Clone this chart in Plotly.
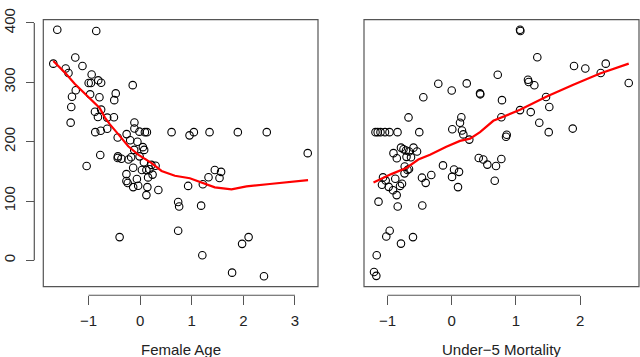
import plotly.graph_objects as go

# left panel: Female Age vs response
age_x = [-1.607, -0.852, -1.684, -1.258, -1.119, -1.444, -1.390, -0.941, -0.999, -0.954,
         -0.813, -0.757, -0.145, -1.249, -0.474, -1.322, -0.970, -0.790, -0.503, -1.336,
         -0.757, -0.877, -0.819, -0.639, -0.509, -1.348, -0.112, -0.871, -0.765, -0.639,
         -0.112, -0.015, 0.091, 0.130, -0.263, -0.436, -0.194, -0.054, -0.774, -0.432,
         0.052, -0.116, 0.077, -1.038, -0.436, -0.364, -0.228, -0.176, -0.012, 0.072,
         0.217, 0.298, 0.033, 0.120, 0.178, -0.136, -0.267, 0.153, 0.240, -0.064,
         -0.267, -0.242, -0.136, -0.039, 0.139, 0.352, 0.120, -0.399, 0.608, 0.956,
         1.040, 1.344, 1.892, 2.453, 3.247, 1.446, 1.568, 1.324, 1.537, 1.214,
         0.929, 0.736, 0.755, 1.181, 0.736, 2.101, 1.975, 1.204, 1.781, 2.399]
age_y = [388.6, 386.3, 331.4, 341.7, 327.5, 323.3, 315.6, 313.1, 298.9, 298.9,
         303.3, 299.3, 295.2, 286.7, 281.3, 275.6, 279.7, 274.8, 269.9, 258.4,
         254.0, 250.3, 241.6, 240.5, 241.0, 232.0, 232.3, 216.0, 218.4, 221.7,
         222.2, 216.8, 216.0, 216.0, 212.7, 207.0, 202.4, 199.7, 177.6, 175.2,
         190.7, 186.1, 186.1, 158.9, 172.4, 171.1, 169.8, 173.6, 175.2, 165.4,
         160.8, 159.3, 152.3, 152.3, 153.5, 156.1, 145.3, 139.8, 144.5, 137.1,
         133.6, 130.3, 123.4, 125.7, 123.4, 118.5, 109.9, 39.2, 216.0, 210.6,
         216.0, 216.0, 216.0, 216.0, 180.6, 152.3, 149.1, 140.1, 138.8, 128.3,
         125.4, 98.4, 90.8, 92.2, 50.0, 39.2, 27.8, 8.7, -20.7, -26.8]
age_fit_x = [-1.684, -1.464, -1.270, -1.013, -0.786, -0.683, -0.587, -0.426, -0.232, -0.039,
             0.221, 0.414, 0.672, 0.962, 1.220, 1.446, 1.770, 2.060, 2.511, 3.253]
age_fit_y = [335.7, 316.7, 297.6, 275.9, 256.8, 240.5, 229.1, 212.7, 192.3, 178.0,
             163.8, 150.7, 142.5, 138.4, 129.5, 123.0, 119.7, 124.6, 128.7, 135.2]

# right panel: Under-5 Mortality vs response
mort_x = [1.064, 1.069, 1.333, 1.905, 2.081, 2.399, 2.321, 2.757, 0.717, 1.188,
          1.199, 1.287, -0.209, 0.234, 0.000, 0.441, 0.445, -0.442, 0.783, 1.469,
          1.520, 1.064, 1.231, 0.773, -0.673, 0.150, 0.129, 1.364, 0.009, 0.160,
          0.181, 1.511, 1.885, -0.505, -1.187, -1.153, -1.109, -1.039, -0.969, -0.844,
          0.274, 0.846, 0.857, -0.790, -0.751, -0.712, -0.595, -0.540, -0.665, -0.907,
          -0.855, -0.704, -0.634, 0.421, 0.492, 0.555, 0.773, 0.690, -0.136, 0.036,
          0.114, 0.005, -0.318, -0.463, -0.405, -0.732, -0.688, -0.665, -0.735, -1.070,
          -0.879, 0.670, 0.098, -1.086, -0.981, -0.914, -0.857, -0.805, -0.774, -1.140,
          -0.841, -0.458, -0.966, -1.019, -0.603, -0.790, -1.168, -1.210, -1.174, -1.028]
mort_y = [388.6, 386.3, 342.2, 327.5, 323.3, 331.4, 315.6, 298.8, 312.8, 304.2,
          300.4, 294.9, 297.6, 298.1, 286.2, 281.3, 279.7, 274.8, 269.9, 275.3,
          258.4, 253.1, 249.8, 241.0, 240.8, 241.0, 231.8, 231.8, 220.9, 218.8,
          212.2, 216.0, 222.0, 216.0, 216.0, 216.0, 216.0, 216.0, 216.0, 216.0,
          203.4, 208.3, 211.6, 189.9, 187.1, 185.0, 189.9, 183.3, 183.3, 180.6,
          171.9, 174.4, 173.6, 172.4, 169.8, 161.3, 170.8, 158.9, 160.0, 153.1,
          149.1, 140.6, 143.7, 139.3, 130.6, 158.0, 152.3, 154.0, 146.6, 139.8,
          137.6, 134.0, 123.4, 127.3, 123.8, 118.0, 109.9, 125.4, 129.0, 98.9,
          90.8, 92.4, 50.0, 40.2, 39.2, 28.2, 8.7, -19.6, -26.1, 134.4]
mort_fit_x = [-1.218, -0.941, -0.701, -0.520, -0.338, -0.084, 0.129, 0.285, 0.441, 0.648,
              1.064, 1.480, 1.894, 2.310, 2.757]
mort_fit_y = [131.1, 145.3, 156.1, 169.8, 178.0, 191.5, 201.3, 205.1, 216.0, 235.1,
              253.6, 275.9, 296.0, 314.8, 331.4]

x1_ticks = [-1, 0, 1, 2, 3]
x2_ticks = [-1, 0, 1, 2]
y_ticks = [0, 100, 200, 300, 400]

def lab(v):
    return str(v).replace("-", "\u2212")

FONT = "Liberation Sans, Arial, sans-serif"
GREY = "#555555"
pt = dict(mode="markers", showlegend=False,
          marker=dict(symbol="circle-open", size=7.5, color="black", line=dict(width=1.1)))

fig = go.Figure()
fig.add_trace(go.Scatter(x=age_x, y=age_y, xaxis="x", yaxis="y", **pt))
fig.add_trace(go.Scatter(x=age_fit_x, y=age_fit_y, xaxis="x", yaxis="y", mode="lines",
                         line=dict(color="red", width=2.2), showlegend=False))
fig.add_trace(go.Scatter(x=mort_x, y=mort_y, xaxis="x2", yaxis="y2", **pt))
fig.add_trace(go.Scatter(x=mort_fit_x, y=mort_fit_y, xaxis="x2", yaxis="y2", mode="lines",
                         line=dict(color="red", width=2.2), showlegend=False))

x_axis_pos = (357 - 293.3) / 357
y_axis_pos = 34.3 / 640
ydom = [(357 - 284.3) / 357, (357 - 9) / 357]
yrange = [-44.1, 405.4]

xcommon = dict(anchor="free", position=x_axis_pos, showline=False, showgrid=False, zeroline=False,
               ticks="outside", ticklen=9, tickwidth=1, tickcolor=GREY, ticklabelstandoff=3,
               tickfont=dict(family=FONT, size=15, color="#222"))
fig.update_layout(
    width=640, height=357,
    margin=dict(l=0, r=0, t=0, b=0),
    paper_bgcolor="white", plot_bgcolor="white",
    xaxis=dict(domain=[43.3 / 640, 318 / 640], range=[-1.878, 3.446],
               tickvals=x1_ticks, ticktext=[lab(v) for v in x1_ticks], **xcommon),
    xaxis2=dict(domain=[364 / 640, 639 / 640], range=[-1.366, 2.917],
                tickvals=x2_ticks, ticktext=[lab(v) for v in x2_ticks], **xcommon),
    yaxis=dict(domain=ydom, range=yrange, anchor="free", position=y_axis_pos,
               showline=False, showgrid=False, zeroline=False, ticklabeloverflow="allow",
               ticks="outside", ticklen=8, tickwidth=1, tickcolor=GREY, tickangle=-90,
               ticklabelstandoff=5,
               tickvals=y_ticks, ticktext=[lab(v) for v in y_ticks],
               tickfont=dict(family=FONT, size=15, color="#222")),
    yaxis2=dict(domain=ydom, range=yrange, anchor="x2", showline=False, showgrid=False,
                zeroline=False, showticklabels=False, ticks=""),
)

# plot boxes
for xr, yr in [("x domain", "y domain"), ("x2 domain", "y2 domain")]:
    fig.add_shape(type="rect", xref=xr, yref=yr, x0=0, x1=1, y0=0, y1=1,
                  line=dict(color=GREY, width=1.2), fillcolor="rgba(0,0,0,0)")
# R style axis lines spanning first to last tick
fig.add_shape(type="line", xref="x", yref="paper", x0=x1_ticks[0], x1=x1_ticks[-1],
              y0=x_axis_pos, y1=x_axis_pos, line=dict(color=GREY, width=1.2))
fig.add_shape(type="line", xref="x2", yref="paper", x0=x2_ticks[0], x1=x2_ticks[-1],
              y0=x_axis_pos, y1=x_axis_pos, line=dict(color=GREY, width=1.2))
fig.add_shape(type="line", xref="paper", yref="y", x0=y_axis_pos, x1=y_axis_pos,
              y0=y_ticks[0], y1=y_ticks[-1], line=dict(color=GREY, width=1.2))

for xr, txt in [("x domain", "Female Age"), ("x2 domain", "Under\u22125 Mortality")]:
    fig.add_annotation(text=txt, xref=xr, x=0.5, yref="paper", y=(357 - 349) / 357,
                       showarrow=False, xanchor="center", yanchor="middle",
                       font=dict(family=FONT, size=15, color="#222"))

fig.write_html("out.html", config={"displayModeBar": False},
               post_script="document.body.style.margin='0';")
